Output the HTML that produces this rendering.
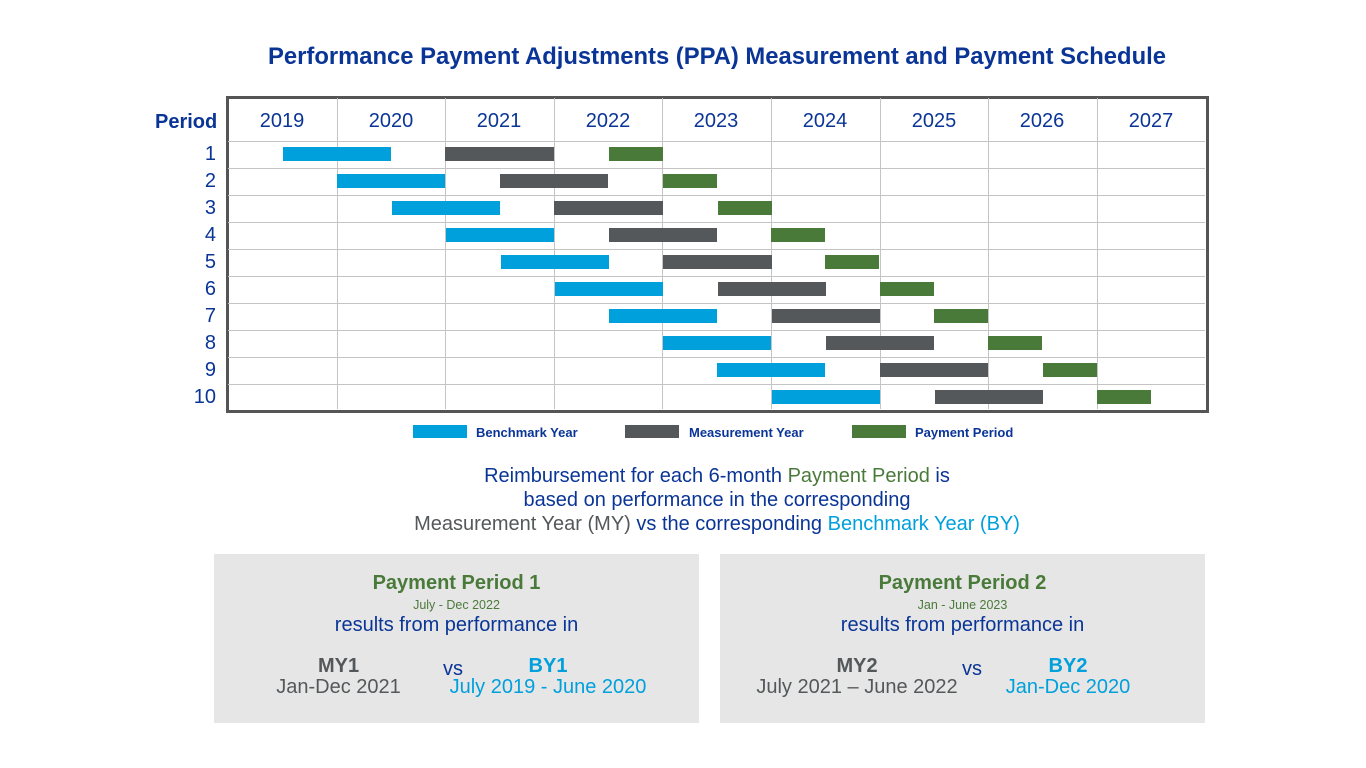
<!DOCTYPE html><html><head><style>
body{margin:0;width:1366px;height:768px;background:#fff;position:relative;font-family:"Liberation Sans",Arial,sans-serif;overflow:hidden}
div{position:absolute}
.t{color:#0a3597}
.b{height:14px}
.bl{background:#00a0dc}.gr{background:#54585a}.gn{background:#4a7a3a}
.yl{top:110px;width:108px;text-align:center;font-size:20px;color:#0a3597}
.rl{left:170px;width:46px;text-align:right;font-size:20px;color:#0a3597;height:27px;line-height:27px}
.vl{top:98px;width:1px;height:311px;background:#c4c4c4}
.hl{left:228px;width:977px;height:1px;background:#c4c4c4}
.box{background:#e6e6e6;top:554px;height:169px;width:485px}
.c{text-align:center;width:100%}
</style></head><body>
<div class="t" style="left:0;width:1434px;top:43px;text-align:center;font-size:23.8px;font-weight:bold;white-space:nowrap">Performance Payment Adjustments (PPA) Measurement and Payment Schedule</div>
<div style="left:226px;top:96px;width:977px;height:311px;border:3px solid #555"></div>
<div class="vl" style="left:337px"></div><div class="vl" style="left:445px"></div><div class="vl" style="left:554px"></div><div class="vl" style="left:662px"></div><div class="vl" style="left:771px"></div><div class="vl" style="left:880px"></div><div class="vl" style="left:988px"></div><div class="vl" style="left:1097px"></div>
<div class="hl" style="top:141px"></div><div class="hl" style="top:168px"></div><div class="hl" style="top:195px"></div><div class="hl" style="top:222px"></div><div class="hl" style="top:249px"></div><div class="hl" style="top:276px"></div><div class="hl" style="top:303px"></div><div class="hl" style="top:330px"></div><div class="hl" style="top:357px"></div><div class="hl" style="top:384px"></div>
<div class="t" style="left:155px;top:111px;font-size:20px;font-weight:bold">Period</div>
<div class="yl" style="left:228px">2019</div><div class="yl" style="left:337px">2020</div><div class="yl" style="left:445px">2021</div><div class="yl" style="left:554px">2022</div><div class="yl" style="left:662px">2023</div><div class="yl" style="left:771px">2024</div><div class="yl" style="left:880px">2025</div><div class="yl" style="left:988px">2026</div><div class="yl" style="left:1097px">2027</div>
<div class="rl" style="top:141px">1</div><div class="rl" style="top:168px">2</div><div class="rl" style="top:195px">3</div><div class="rl" style="top:222px">4</div><div class="rl" style="top:249px">5</div><div class="rl" style="top:276px">6</div><div class="rl" style="top:303px">7</div><div class="rl" style="top:330px">8</div><div class="rl" style="top:357px">9</div><div class="rl" style="top:384px">10</div>
<div class="b bl" style="left:283px;top:147px;width:108px"></div><div class="b gr" style="left:445px;top:147px;width:109px"></div><div class="b gn" style="left:609px;top:147px;width:54px"></div>
<div class="b bl" style="left:337px;top:174px;width:108px"></div><div class="b gr" style="left:500px;top:174px;width:108px"></div><div class="b gn" style="left:663px;top:174px;width:54px"></div>
<div class="b bl" style="left:392px;top:201px;width:108px"></div><div class="b gr" style="left:554px;top:201px;width:109px"></div><div class="b gn" style="left:718px;top:201px;width:54px"></div>
<div class="b bl" style="left:446px;top:228px;width:108px"></div><div class="b gr" style="left:609px;top:228px;width:108px"></div><div class="b gn" style="left:771px;top:228px;width:54px"></div>
<div class="b bl" style="left:501px;top:255px;width:108px"></div><div class="b gr" style="left:663px;top:255px;width:109px"></div><div class="b gn" style="left:825px;top:255px;width:54px"></div>
<div class="b bl" style="left:555px;top:282px;width:108px"></div><div class="b gr" style="left:718px;top:282px;width:108px"></div><div class="b gn" style="left:880px;top:282px;width:54px"></div>
<div class="b bl" style="left:609px;top:309px;width:108px"></div><div class="b gr" style="left:772px;top:309px;width:108px"></div><div class="b gn" style="left:934px;top:309px;width:54px"></div>
<div class="b bl" style="left:663px;top:336px;width:108px"></div><div class="b gr" style="left:826px;top:336px;width:108px"></div><div class="b gn" style="left:988px;top:336px;width:54px"></div>
<div class="b bl" style="left:717px;top:363px;width:108px"></div><div class="b gr" style="left:880px;top:363px;width:108px"></div><div class="b gn" style="left:1043px;top:363px;width:54px"></div>
<div class="b bl" style="left:772px;top:390px;width:108px"></div><div class="b gr" style="left:935px;top:390px;width:108px"></div><div class="b gn" style="left:1097px;top:390px;width:54px"></div>
<div class="bl" style="left:413px;top:425px;width:54px;height:13px"></div><div class="t" style="left:476px;top:425px;font-size:13px;font-weight:bold">Benchmark Year</div>
<div class="gr" style="left:625px;top:425px;width:54px;height:13px"></div><div class="t" style="left:689px;top:425px;font-size:13px;font-weight:bold">Measurement Year</div>
<div class="gn" style="left:852px;top:425px;width:54px;height:13px"></div><div class="t" style="left:915px;top:425px;font-size:13px;font-weight:bold">Payment Period</div>
<div class="t" style="left:0;width:1434px;top:464px;text-align:center;font-size:20px;line-height:24px">Reimbursement for each 6-month <span style="color:#4a7a3a">Payment Period</span> is<br>based on performance in the corresponding<br><span style="color:#54585a">Measurement Year (MY)</span> vs the corresponding <span style="color:#00a0dc">Benchmark Year (BY)</span></div>
<div class="box" style="left:214px">
<div class="c" style="top:18px;font-size:20px;font-weight:bold;color:#4a7a3a">Payment Period 1</div>
<div class="c" style="top:44px;font-size:12.5px;color:#4a7a3a">July - Dec 2022</div>
<div class="c t" style="top:60px;font-size:20px">results from performance in</div>
<div style="left:52px;width:145px;text-align:center;top:102px;font-size:20px;color:#54585a;line-height:21px"><b>MY1</b><br>Jan-Dec 2021</div>
<div class="t" style="left:229px;top:104px;font-size:20px">vs</div>
<div style="left:224px;width:220px;text-align:center;top:102px;font-size:20px;color:#00a0dc;line-height:21px"><b>BY1</b><br>July 2019 - June 2020</div>
</div>
<div class="box" style="left:720px">
<div class="c" style="top:18px;font-size:20px;font-weight:bold;color:#4a7a3a">Payment Period 2</div>
<div class="c" style="top:44px;font-size:12.5px;color:#4a7a3a">Jan - June 2023</div>
<div class="c t" style="top:60px;font-size:20px">results from performance in</div>
<div style="left:27px;width:220px;text-align:center;top:102px;font-size:20px;color:#54585a;line-height:21px"><b>MY2</b><br>July 2021 – June 2022</div>
<div class="t" style="left:242px;top:104px;font-size:20px">vs</div>
<div style="left:268px;width:160px;text-align:center;top:102px;font-size:20px;color:#00a0dc;line-height:21px"><b>BY2</b><br>Jan-Dec 2020</div>
</div>
</body></html>
